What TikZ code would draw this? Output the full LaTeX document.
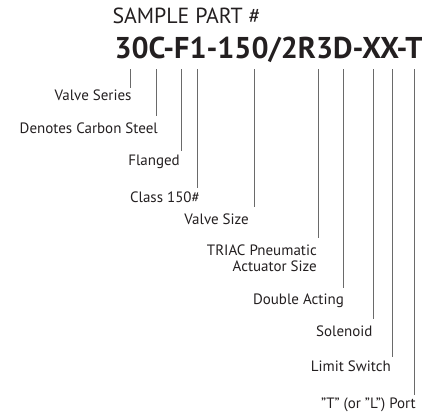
\documentclass[tikz,border=0pt]{standalone}
\usepackage{fontspec}
\setmainfont{PT Sans}
\usepackage{graphicx}
\definecolor{txt}{HTML}{231F20}
\definecolor{leadc}{HTML}{6A6A6A}
\tikzset{
  lab/.style={anchor=base east, inner sep=0pt, text=txt, font=\fontsize{15}{16}\selectfont, align=right},
  lead/.style={draw=leadc, line width=0.9pt},
}
\begin{document}
\begin{tikzpicture}[x=1pt,y=-1pt]
\useasboundingbox (0,0) rectangle (438,412);
\node[anchor=base west, inner sep=0pt, text=txt] (title) at (112.3,23.3) {\resizebox{148pt}{!}{SAMPLE PART \#}};
\node[anchor=base west, inner sep=0pt, text=txt] (part) at (114.3,59) {\resizebox{308pt}{!}{\bfseries 30C-F1-150/2R3D-XX-T}};
% labels
\node[lab] (l1) at (131.7,100.7) {Valve Series};
\node[lab] (l2) at (158,133.3) {Denotes Carbon Steel};
\node[lab] (l3) at (180,165) {Flanged};
\node[lab] (l4) at (200,202.3) {Class 150\#};
\node[lab] (l5) at (249,224) {Valve Size};
\node[lab] (l6) at (317,271) {TRIAC Pneumatic\\Actuator Size};
\node[lab] (l7) at (344,304) {Double Acting};
\node[lab] (l8) at (372.7,336) {Solenoid};
\node[lab] (l9) at (391,371.7) {Limit Switch};
\node[lab] (l10) at (416,408.3) {\symbol{34}T\symbol{34} (or \symbol{34}L\symbol{34}) Port};
% connector ends
\coordinate (s1) at (130.5,69);  \coordinate (e1) at (130.5,88.3);
\coordinate (s2) at (156.7,69);  \coordinate (e2) at (156.7,115.7);
\coordinate (s3) at (181,69);    \coordinate (e3) at (181,150.7);
\coordinate (s4) at (197.5,69);  \coordinate (e4) at (197.5,187.7);
\coordinate (s5) at (254.7,69);  \coordinate (e5) at (254.7,207.3);
\coordinate (s6) at (318.3,69);  \coordinate (e6) at (318.3,238.3);
\coordinate (s7) at (343,69);    \coordinate (e7) at (343,288.3);
\coordinate (s8) at (373,69);    \coordinate (e8) at (373,319.3);
\coordinate (s9) at (392.3,69);  \coordinate (e9) at (392.3,356.7);
\coordinate (s10) at (414.3,69); \coordinate (e10) at (414.3,395);
\foreach \i in {1,...,10} \draw[lead] (s\i) -- (e\i);
\end{tikzpicture}
\end{document}
